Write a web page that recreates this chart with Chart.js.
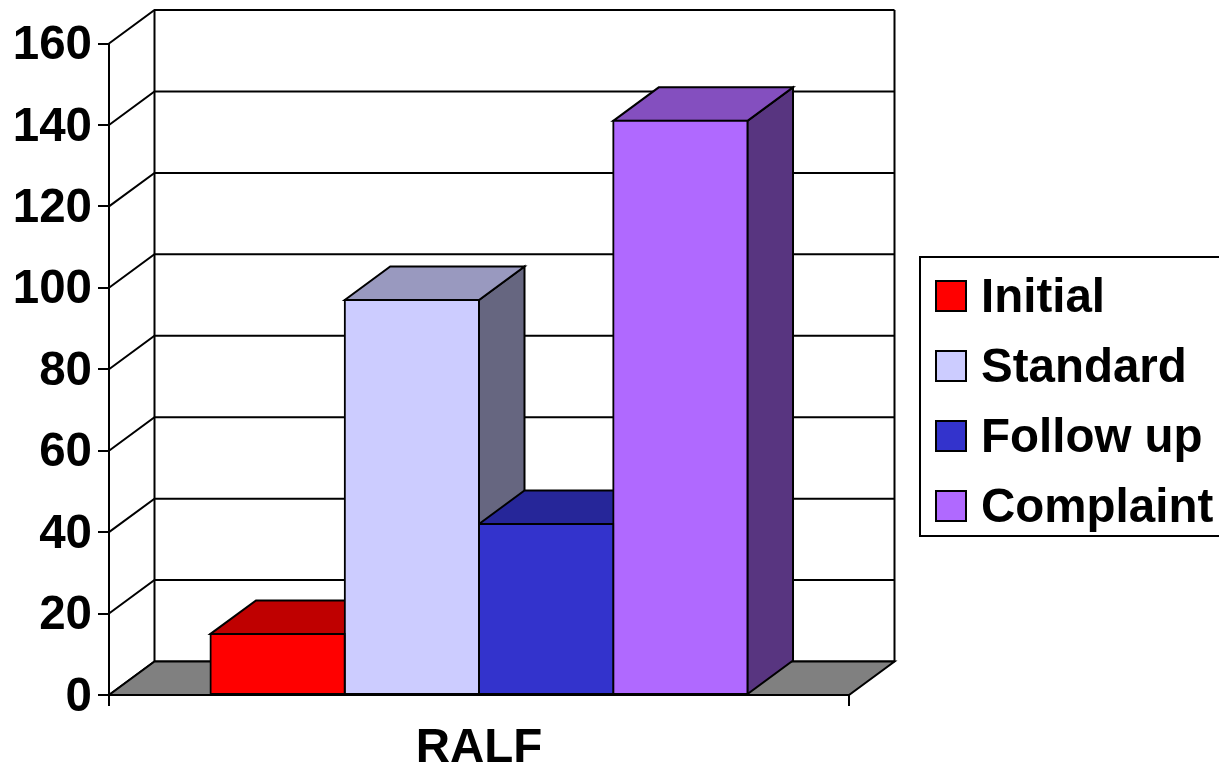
<!DOCTYPE html>
<html>
<head>
<meta charset="utf-8">
<title>RALF</title>
<script src="https://cdn.jsdelivr.net/npm/chart.js@4"></script>
<style>
    html, body { margin: 0; padding: 0; background: #fff; overflow: hidden; }
    canvas { display: block; }
</style>
</head>
<body>
<canvas id="chart" width="1219" height="765"></canvas>
<script>
// Data
const categories = ['RALF'];
const seriesNames = ['Initial', 'Standard', 'Follow up', 'Complaint'];
const initialValues = [15];
const standardValues = [97];
const followUpValues = [42];
const complaintValues = [141];

const frontColors = ['#FF0000', '#CCCCFF', '#3333CC', '#B069FF'];
const topColors = ['#BF0000', '#9999BF', '#262699', '#844FBF'];
const sideColors = ['#800000', '#666680', '#1A1A66', '#583580'];

// Depth of the fake 3D box, back wall relative to the front plane
const DEPTH_X = 45.5;
const DEPTH_Y = -33.5;

function poly(ctx, pts, fill) {
    ctx.beginPath();
    pts.forEach((p, i) => (i ? ctx.lineTo(p[0], p[1]) : ctx.moveTo(p[0], p[1])));
    ctx.closePath();
    if (fill) {
        ctx.fillStyle = fill;
        ctx.fill();
    }
    ctx.stroke();
}

// Legend swatch, a bit of empty space under it lifts it level with the text
function makeSwatch(color) {
    const c = document.createElement('canvas');
    c.width = 32;
    c.height = 38;
    const g = c.getContext('2d');
    g.fillStyle = color;
    g.strokeStyle = '#000';
    g.lineWidth = 2;
    g.fillRect(1, 1, 30, 30);
    g.strokeRect(1, 1, 30, 30);
    return c;
}

const box3d = {
    id: 'box3d',
    afterLayout(chart) {
        // the legend sits outside the plot, to the right
        const legend = chart.legend;
        const padding = legend.options.labels.padding;
        legend.left = 944.75 - padding;
        legend.right = 1219;
        legend.top = 275.25 - padding;
        legend.bottom = 765;
    },
    beforeDatasetsDraw(chart) {
        const { ctx, scales: { x, y } } = chart;
        const left = x.left, right = x.right;
        const y0 = y.getPixelForValue(0);
        ctx.save();
        ctx.strokeStyle = '#000';
        ctx.lineWidth = 2;
        ctx.lineJoin = 'miter';

        // side wall and back wall grid lines
        y.ticks.forEach(t => {
            const py = y.getPixelForValue(t.value);
            ctx.beginPath();
            ctx.moveTo(left, py);
            ctx.lineTo(left + DEPTH_X, py + DEPTH_Y);
            ctx.lineTo(right + DEPTH_X, py + DEPTH_Y);
            ctx.stroke();
        });
        const yTop = y.getPixelForValue(y.max);
        ctx.beginPath();
        ctx.moveTo(left + DEPTH_X, yTop + DEPTH_Y);
        ctx.lineTo(left + DEPTH_X, y0 + DEPTH_Y);
        ctx.moveTo(right + DEPTH_X, yTop + DEPTH_Y);
        ctx.lineTo(right + DEPTH_X, y0 + DEPTH_Y);
        ctx.stroke();

        // floor
        poly(ctx, [[left, y0], [right, y0], [right + DEPTH_X, y0 + DEPTH_Y], [left + DEPTH_X, y0 + DEPTH_Y]], '#808080');

        // top and side of each bar, left to right, fronts come after from Chart.js
        chart.data.datasets.forEach((ds, i) => {
            const bar = chart.getDatasetMeta(i).data[0];
            const xl = bar.x - bar.width / 2;
            const xr = bar.x + bar.width / 2;
            const yt = bar.y;
            const yb = bar.base;
            poly(ctx, [[xr, yt], [xr + DEPTH_X, yt + DEPTH_Y], [xr + DEPTH_X, yb + DEPTH_Y], [xr, yb]], sideColors[i]);
            poly(ctx, [[xl, yt], [xl + DEPTH_X, yt + DEPTH_Y], [xr + DEPTH_X, yt + DEPTH_Y], [xr, yt]], topColors[i]);
        });
        ctx.restore();
    },
    afterDraw(chart) {
        // legend frame, runs off the right edge
        const { ctx } = chart;
        ctx.save();
        ctx.strokeStyle = '#000';
        ctx.lineWidth = 2;
        ctx.strokeRect(920, 257, 320, 279);
        ctx.restore();
    }
};

const valueSets = [initialValues, standardValues, followUpValues, complaintValues];

Chart.defaults.font.family = '"Liberation Sans", Arial, sans-serif';
Chart.defaults.font.weight = 'bold';
Chart.defaults.font.size = 47.5;
Chart.defaults.color = '#000';

new Chart(document.getElementById('chart'), {
    type: 'bar',
    data: {
        labels: categories,
        datasets: seriesNames.map((name, i) => ({
            label: name,
            data: valueSets[i],
            backgroundColor: frontColors[i],
            borderColor: '#000',
            borderWidth: 2,
            borderSkipped: false,
            inflateAmount: 1,
            pointStyle: makeSwatch(frontColors[i]),
            categoryPercentage: 0.7257,
            barPercentage: 1
        }))
    },
    options: {
        responsive: false,
        animation: false,
        devicePixelRatio: 1,
        layout: { padding: { left: 0, top: 43.5, right: 370, bottom: 0 } },
        plugins: {
            tooltip: { enabled: false },
            legend: {
                position: 'chartArea',
                align: 'start',
                labels: {
                    usePointStyle: true,
                    boxWidth: 12.5,
                    boxHeight: 30,
                    padding: 22.5,
                    font: { size: 47.5, weight: 'bold' }
                }
            }
        },
        scales: {
            x: {
                afterFit(scale) { scale.height = 70; },
                grid: { drawOnChartArea: false, color: '#000', lineWidth: 2, tickLength: 11 },
                border: { color: '#000', width: 2 },
                ticks: { padding: 14, maxRotation: 0 }
            },
            y: {
                min: 0,
                max: 160,
                afterFit(scale) { scale.width = 109; },
                grid: { drawOnChartArea: false, color: '#000', lineWidth: 2, tickLength: 11 },
                border: { color: '#000', width: 2 },
                ticks: { stepSize: 20, padding: 6, labelOffset: 2.5 }
            }
        }
    },
    plugins: [box3d]
});
</script>
</body>
</html>
